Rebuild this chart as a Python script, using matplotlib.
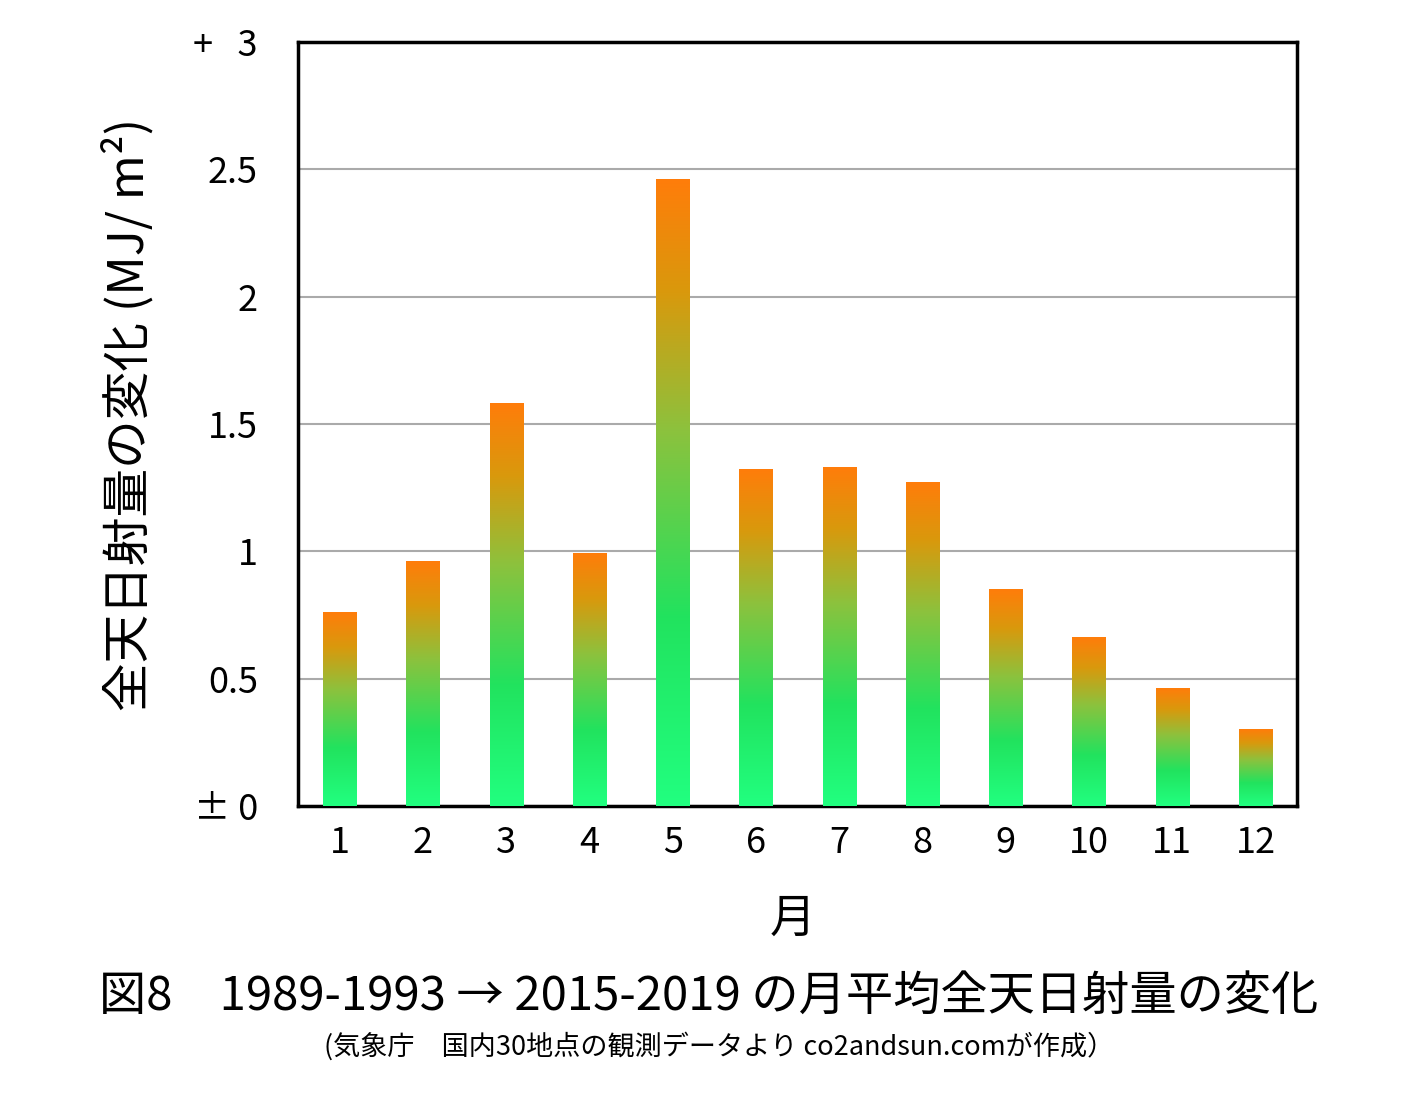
import matplotlib
matplotlib.use('Agg')
import matplotlib.pyplot as plt
import numpy as np
from matplotlib.colors import LinearSegmentedColormap

plt.rcParams['font.family'] = ['Noto Sans CJK JP', 'DejaVu Sans']

# Monthly change of global solar radiation (MJ/m2)
months = ['1', '2', '3', '4', '5', '6', '7', '8', '9', '10', '11', '12']
change = [0.76, 0.96, 1.58, 0.99, 2.46, 1.32, 1.33, 1.27, 0.85, 0.66, 0.46, 0.30]
ytick_vals = [0, 0.5, 1, 1.5, 2, 2.5, 3]
ytick_labels = ['± 0', '0.5', '1', '1.5', '2', '2.5', '+   3']

# Gradient: bright green at bottom -> orange at top of each bar
grad = LinearSegmentedColormap.from_list('grad', [
    (0.00, (0.13, 1.00, 0.50)),
    (0.30, (0.13, 0.89, 0.37)),
    (0.60, (0.55, 0.76, 0.24)),
    (0.82, (0.85, 0.60, 0.05)),
    (1.00, (1.00, 0.49, 0.04)),
])

fig = plt.figure(figsize=(14.18, 10.93), dpi=100)
ax = fig.add_axes([0.2102, 0.2626, 0.7045, 0.699])

x = np.arange(len(months)) + 0.5
bars = ax.bar(x, change, width=0.4, color='none', zorder=3)

gradient = np.linspace(0, 1, 256).reshape(-1, 1)
for rect in bars:
    bx, bw, bh = rect.get_x(), rect.get_width(), rect.get_height()
    ax.imshow(gradient, cmap=grad, origin='lower', aspect='auto',
              extent=[bx, bx + bw, 0, bh], zorder=3, interpolation='bilinear')

ax.set_xlim(0, len(months))
ax.set_ylim(0, 3)

ax.set_xticks(x)
ax.set_xticklabels(months, fontsize=26)
ax.set_yticks(ytick_vals)
ax.set_yticklabels(ytick_labels, fontsize=26)
ax.tick_params(axis='y', length=0, pad=29)
ax.tick_params(axis='x', length=0, pad=14)

ax.yaxis.grid(True, color='#aaaaaa', linewidth=1.5, zorder=0)
ax.set_axisbelow(True)
for s in ax.spines.values():
    s.set_linewidth(2.5)
    s.set_color('black')

ax.set_xlabel('月', fontsize=33)
ax.xaxis.set_label_coords(0.495, -0.116)
ax.set_ylabel('全天日射量の変化 (MJ/ m²)', fontsize=35)
ax.yaxis.set_label_coords(-0.144, 0.513)

fig.text(0.5, 0.088, '図8　1989-1993 → 2015-2019 の月平均全天日射量の変化',
         ha='center', va='center', fontsize=34)
fig.text(0.507, 0.043, '(気象庁　国内30地点の観測データより co2andsun.comが作成）',
         ha='center', va='center', fontsize=19.5)

fig.savefig('out.png', dpi=100)
